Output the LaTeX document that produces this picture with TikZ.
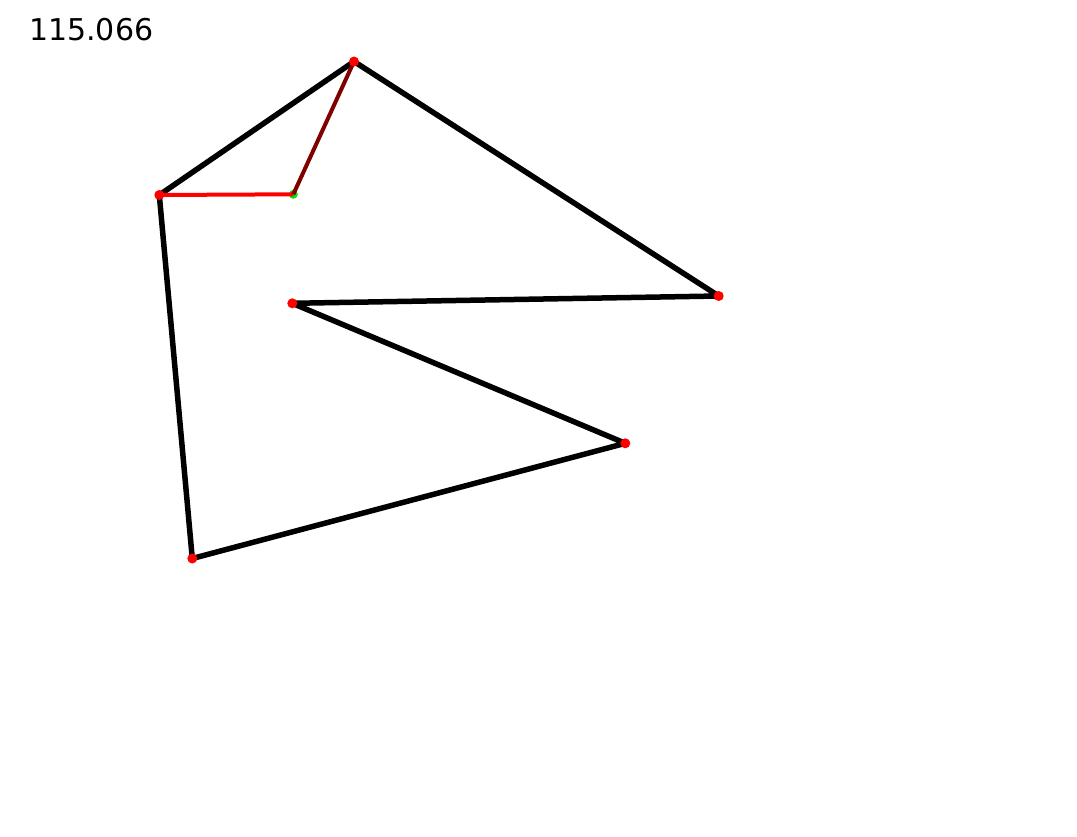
\documentclass[tikz,border=0pt]{standalone}
\usepackage{fontspec}
\newfontfamily\labelfont{DejaVu Sans}
\definecolor{darkred}{RGB}{128,0,0}
\definecolor{pured}{RGB}{255,0,0}
\definecolor{pugreen}{RGB}{0,230,0}
\begin{document}
\begin{tikzpicture}[x=1pt,y=-1pt,
  edge/.style={line width=5.5pt,black,line join=round},
  redline/.style={line width=4pt,pured},
  dredline/.style={line width=4pt,darkred},
  vdot/.style={circle,fill=pured,inner sep=0pt,minimum size=10pt},
  gdot/.style={circle,fill=pugreen,inner sep=0pt,minimum size=9pt}]
\useasboundingbox (0,0) rectangle (1077,837);
\fill[white] (0,0) rectangle (1077,837);
\coordinate (A) at (354,61.5);
\coordinate (B) at (159.3,195);
\coordinate (C) at (293.3,194.3);
\coordinate (D) at (718.7,296);
\coordinate (E) at (292.3,303.3);
\coordinate (F) at (625.3,443.3);
\coordinate (G) at (192.3,558.5);
\node[gdot] (c) at (C) {};
\draw[edge] (B) -- (A) -- (D) -- (E) -- (F) -- (G) -- cycle;
\draw[redline] (B) -- (C);
\draw[dredline] (C) -- (A);
\foreach \p in {A,B,D,E,F,G} \node[vdot] (v\p) at (\p) {};
\node[anchor=base west,inner sep=0pt,font=\labelfont\fontsize{30}{36}\selectfont] (score) at (29,41) {115.066};
\end{tikzpicture}
\end{document}
